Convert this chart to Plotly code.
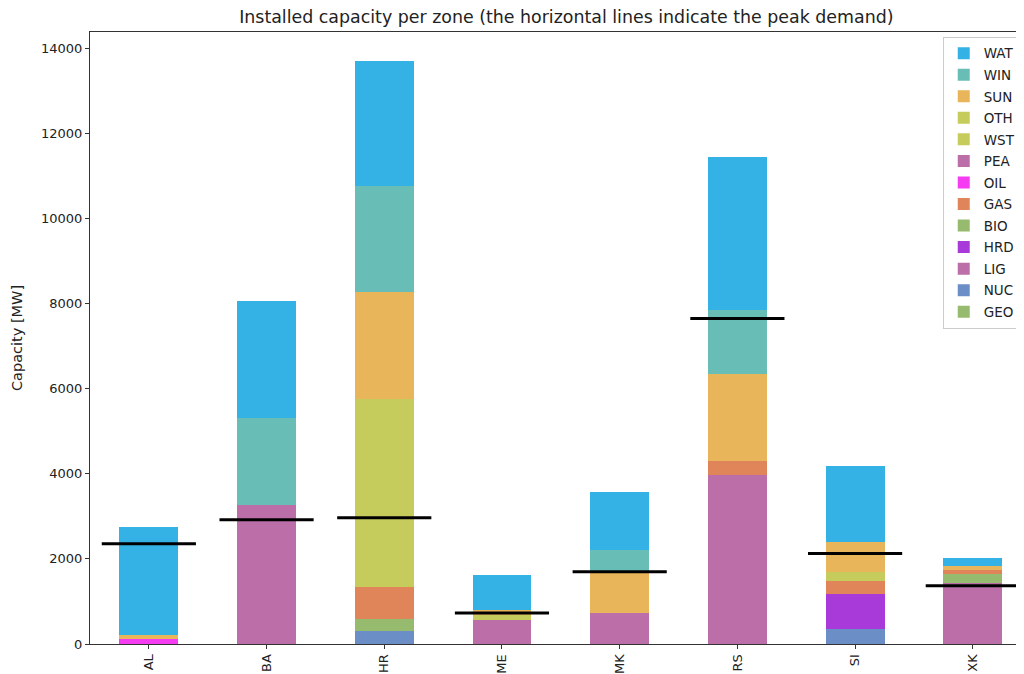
import plotly.graph_objects as go

zones = ["AL", "BA", "HR", "ME", "MK", "RS", "SI", "XK"]

# stacking order bottom -> top
techs = ["GEO", "NUC", "LIG", "HRD", "BIO", "GAS", "OIL", "PEA", "WST", "OTH", "SUN", "WIN", "WAT"]

GEO = [0, 0, 0, 0, 0, 0, 0, 0]
NUC = [0, 0, 296, 0, 0, 0, 359, 0]
LIG = [0, 3260, 0, 570, 728, 3961, 0, 1433]
HRD = [0, 0, 0, 0, 0, 0, 806, 0]
BIO = [0, 0, 300, 0, 0, 0, 0, 218]
GAS = [0, 0, 736, 0, 0, 338, 322, 94]
OIL = [110, 0, 0, 0, 0, 0, 0, 0]
PEA = [0, 0, 0, 0, 0, 0, 0, 0]
WST = [0, 0, 0, 110, 0, 0, 0, 0]
OTH = [0, 0, 4435, 0, 0, 0, 195, 0]
SUN = [100, 0, 2495, 120, 940, 2058, 721, 78]
WIN = [0, 2050, 2513, 0, 547, 1496, 0, 0]
WAT = [2540, 2740, 2937, 828, 1355, 3594, 1769, 197]

peak_demand = [2356, 2920, 2966, 728, 1698, 7649, 2128, 1370]

y_ticks = [0, 2000, 4000, 6000, 8000, 10000, 12000, 14000]

values = {"GEO": GEO, "NUC": NUC, "LIG": LIG, "HRD": HRD, "BIO": BIO, "GAS": GAS,
          "OIL": OIL, "PEA": PEA, "WST": WST, "OTH": OTH, "SUN": SUN, "WIN": WIN, "WAT": WAT}

colors = {
    "WAT": "#35b2e5", "WIN": "#68bdb6", "SUN": "#e8b55a", "OTH": "#c5cc5c",
    "WST": "#c5cc5c", "PEA": "#bb6ea8", "OIL": "#f53cf2", "GAS": "#e0845a",
    "BIO": "#96bb6e", "HRD": "#a73ad9", "LIG": "#bb6ea8", "NUC": "#6b8ec7",
    "GEO": "#96bb6e",
}

xs = list(range(len(zones)))
fig = go.Figure()
n = len(techs)
for i, t in enumerate(techs):
    fig.add_trace(go.Bar(x=xs, y=values[t], name=t, legendgroup=t, legendrank=1000 + (n - i),
                         marker=dict(color=colors[t], line=dict(width=0)), width=0.5))

lx, ly = [], []
for i, d in enumerate(peak_demand):
    lx += [i - 0.4, i + 0.4, None]
    ly += [d, d, None]
fig.add_trace(go.Scatter(x=lx, y=ly, mode="lines", line=dict(color="black", width=3),
                         showlegend=False, hoverinfo="skip"))

font = "DejaVu Sans, Liberation Sans, sans-serif"
fig.update_layout(
    width=1024, height=674,
    barmode="stack",
    paper_bgcolor="white", plot_bgcolor="white",
    margin=dict(l=82, r=8, t=24, b=38, autoexpand=False),
    font=dict(family=font, size=13, color="#222"),
    title=dict(text="Installed capacity per zone (the horizontal lines indicate the peak demand)",
               x=0.51, xref="paper", xanchor="center", y=1 - 9 / 674, yref="container",
               yanchor="middle", font=dict(size=17.4, color="#222")),
    legend=dict(traceorder="grouped", x=0.913, y=0.992, xanchor="left", yanchor="top",
                bgcolor="white", bordercolor="#cccccc", borderwidth=1, tracegroupgap=1,
                font=dict(size=13.5, color="#222"), itemwidth=30),
    showlegend=True,
)
fig.update_xaxes(range=[-0.5, 7.435], tickvals=xs, ticktext=zones, tickangle=-90,
                 showline=True, linecolor="#333", linewidth=1, mirror=True,
                 ticks="outside", ticklen=4, tickcolor="#333", showgrid=False, zeroline=False,
                 tickfont=dict(size=13))
fig.update_yaxes(range=[0, 14383], tickvals=y_ticks, ticktext=[str(v) for v in y_ticks],
                 showline=True, linecolor="#333", linewidth=1,
                 ticks="outside", ticklen=4, tickcolor="#333", showgrid=False, zeroline=False,
                 tickfont=dict(size=13),
                 title=dict(text="Capacity [MW]", font=dict(size=14.5), standoff=14))

fig.write_html("out.html")
